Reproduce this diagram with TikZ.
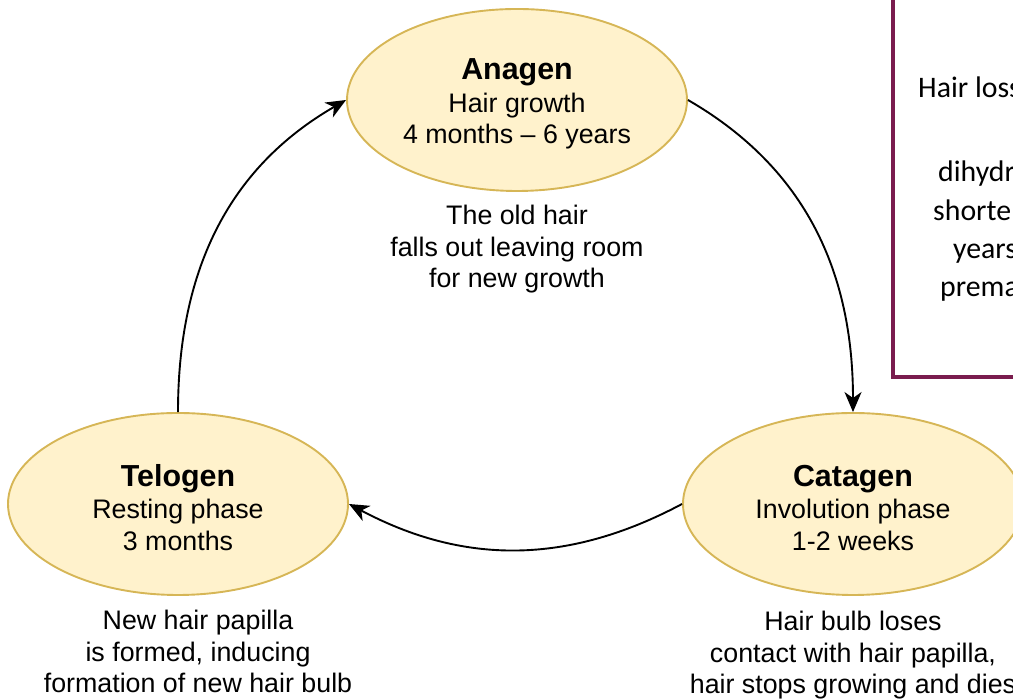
\documentclass[tikz,border=0pt]{standalone}
\usepackage{fontspec}
\setmainfont{Liberation Sans}
\newfontfamily\notefont{Carlito}
\usetikzlibrary{positioning,arrows.meta,shapes.geometric}
\definecolor{phasefill}{HTML}{FFF2CC}
\definecolor{phaseline}{HTML}{D6B656}
\definecolor{noteline}{HTML}{7A1C4E}
\newcommand{\phasetitle}[1]{{\fontsize{30.4}{31.5}\bfseries\selectfont\rule{0pt}{29pt}#1}\\[1pt]}

\begin{document}
\begin{tikzpicture}[x=1pt, y=1pt,
  phase/.style={ellipse, draw=phaseline, fill=phasefill, line width=1.9pt,
    minimum width=340pt, minimum height=182pt, inner sep=0pt, align=center,
    font=\fontsize{26.8}{31.5}\selectfont},
  caption/.style={align=center, inner sep=0pt, font=\fontsize{26.8}{31.7}\selectfont},
  phasearrow/.style={-{Stealth[length=20pt,width=17pt,inset=6pt]}, line width=1.9pt},
  notetext/.style={anchor=base west, inner sep=0pt, font=\notefont\fontsize{29.8}{36}\selectfont}]
  \useasboundingbox (0,0) rectangle (1013,700);
  % Note box (cut off at the right)
  \node[draw=noteline, line width=4pt, minimum width=307pt, minimum height=407pt, inner sep=0pt]
    (note) at (1046.5,526.5) {};
  \foreach \x/\y/\t [count=\i] in {918/602/Hair loss, 938/518/dihydr, 933/479/shorten,
      953/441/years, 940/403/prema}
    \node[notetext] (note\i) at (\x,\y) {\t};
  % Phases
  \node[phase] (anagen) at (517,600) {\phasetitle{Anagen}Hair growth\\4 months -- 6 years};
  \node[phase] (catagen) at (853,196) {\phasetitle{Catagen}Involution phase\\1-2 weeks};
  \node[phase] (telogen) at (178,196) {\phasetitle{Telogen}Resting phase\\3 months};
  % Captions
  \node[caption, below=13pt of anagen] (anagentext) {The old hair\\falls out leaving room\\for new growth};
  \node[caption, below=15pt of catagen] (catagentext) {Hair bulb loses\\contact with hair papilla,\\hair stops growing and dies};
  \node[caption, below=14pt of telogen, xshift=20pt] (telogentext) {New hair papilla\\is formed, inducing\\formation of new hair bulb};
  % Cycle
  \draw[phasearrow] (anagen.east) to[out=-30, in=90] (catagen.north);
  \draw[phasearrow] (catagen.west) to[out=-152, in=-28] (telogen.east);
  \draw[phasearrow] (telogen.north) to[out=90, in=-150] (anagen.west);
\end{tikzpicture}
\end{document}
